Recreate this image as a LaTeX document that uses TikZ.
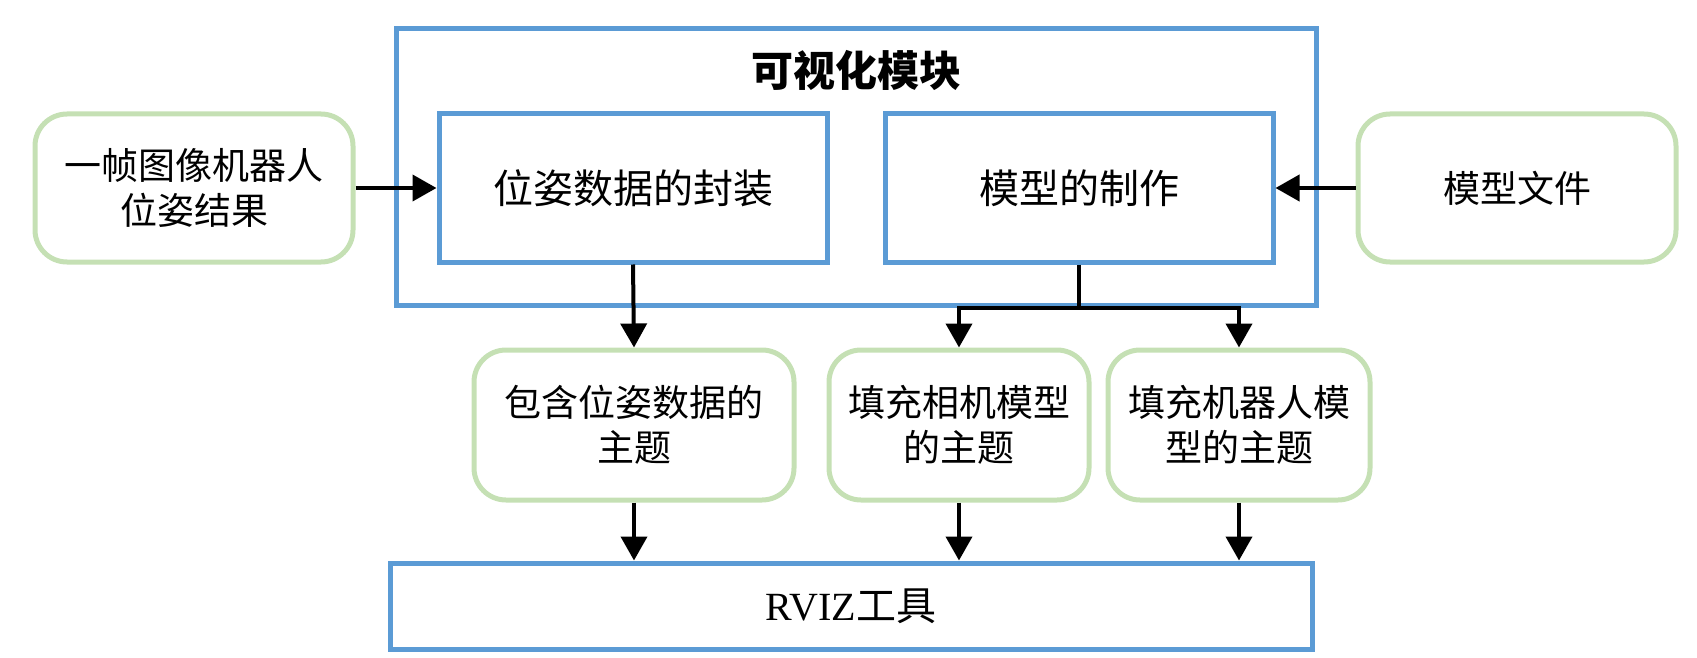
\documentclass[tikz,border=0pt]{standalone}
\usepackage{fontspec}
\setmainfont{Liberation Serif}
\newfontfamily\cjk{Noto Sans CJK SC}
\usepackage{xcolor}
\usepackage{tikz}
\usetikzlibrary{positioning,arrows.meta,calc}

\definecolor{boxblue}{HTML}{5B9BD5}
\definecolor{boxgreen}{HTML}{C5E0B4}

\begin{document}
\begin{tikzpicture}[
		x=1pt, y=-1pt,
		font=\cjk\fontsize{40}{46}\selectfont,
		box/.style={draw=boxblue, line width=5pt, align=center, inner sep=0pt},
		src/.style={draw=boxgreen, line width=5pt, rounded corners=32pt, align=center, inner sep=0pt},
		topic/.style={src, font=\cjk\fontsize{37}{45}\selectfont},
		arr/.style={-{Triangle[length=24pt,width=26pt]}, line width=4pt},
		wire/.style={line width=4pt}
		]
		\useasboundingbox (0,0) rectangle (1697,658);
		% visualisation module and its two parts
		\node[box, minimum width=920pt, minimum height=276pt] (vis) at (856,167) {};
		\node[font=\cjk\bfseries\fontsize{42}{48}\selectfont] (title) at (856,70) {可视化模块};
		\node[box, minimum width=388pt, minimum height=148pt] (pack) at (633,188)
		{位姿数据的封装};
		\node[box, minimum width=388pt, minimum height=148pt, right=53pt of pack] (model)
		{模型的制作};
		% inputs
		\node[topic, minimum width=318pt, minimum height=148pt] (input) at (194,188)
		{一帧图像机器人\\位姿结果};
		\node[topic, minimum width=318pt, minimum height=148pt] (mfile) at (1517,188)
		{模型文件};
		% topics
		\node[topic, minimum width=320pt, minimum height=150pt] (topic1) at (634,425)
		{包含位姿数据的\\主题};
		\node[topic, minimum width=260pt, minimum height=150pt] (topic2) at (959,425)
		{填充相机模型\\的主题};
		\node[topic, minimum width=262pt, minimum height=150pt] (topic3) at (1239,425)
		{填充机器人模\\型的主题};
		\node[box, minimum width=922pt, minimum height=86pt] (rviz) at (851,606)
		{{\rmfamily RVIZ}工具};
		\draw[arr] (input.east) -- (pack.west);
		\draw[arr] (mfile.west) -- (model.east);
		\draw[arr] (pack.south) -- (topic1.north);
		\draw[wire] (model.south) -- (model.south |- vis.south) coordinate (split);
		\draw[arr] (split) -| (topic2.north);
		\draw[arr] (split) -| (topic3.north);
		\draw[arr] (topic1.south) -- (topic1.south |- rviz.north);
		\draw[arr] (topic2.south) -- (topic2.south |- rviz.north);
		\draw[arr] (topic3.south) -- (topic3.south |- rviz.north);
	\end{tikzpicture}
\end{document}
